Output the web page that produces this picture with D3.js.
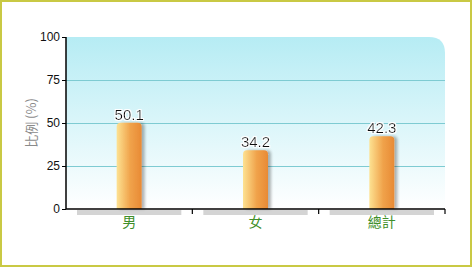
<!DOCTYPE html>
<html>
<head>
<meta charset="UTF-8">
<script src="https://cdn.jsdelivr.net/npm/d3@7"></script>
<style>
  body { margin: 0; background: #fff; }
  svg { display: block; font-family: Arial, "Liberation Sans", sans-serif; }
</style>
</head>
<body>
<div id="chart"></div>
<script>
// data
var categories = ["男", "女", "總計"];
var values = [50.1, 34.2, 42.3];
var yTicks = [0, 25, 50, 75, 100];
var yTitle = "比例 (%)";

var W = 472, H = 267;
var m = { left: 66, right: 27, top: 37, bottom: 58 };
var iw = W - m.left - m.right, ih = H - m.top - m.bottom;

var svg = d3.select("#chart").append("svg").attr("width", W).attr("height", H);

// outer border
svg.append("rect").attr("x", 1).attr("y", 1).attr("width", W - 2).attr("height", H - 2)
  .attr("fill", "#fff").attr("stroke", "#c9c944").attr("stroke-width", 2);

var defs = svg.append("defs");
var bg = defs.append("linearGradient").attr("id", "bg").attr("x1", 0).attr("y1", 0).attr("x2", 0).attr("y2", 1);
bg.append("stop").attr("offset", "0%").attr("stop-color", "#b6ecf4");
bg.append("stop").attr("offset", "100%").attr("stop-color", "#ffffff");

var bar = defs.append("linearGradient").attr("id", "bar").attr("x1", 0).attr("y1", 0).attr("x2", 1).attr("y2", 0);
bar.append("stop").attr("offset", "0%").attr("stop-color", "#fde292");
bar.append("stop").attr("offset", "55%").attr("stop-color", "#f0a24a");
bar.append("stop").attr("offset", "100%").attr("stop-color", "#e88a35");

var shadow = defs.append("filter").attr("id", "sh").attr("x", "-50%").attr("width", "200%");
shadow.append("feGaussianBlur").attr("in", "SourceAlpha").attr("stdDeviation", 1.5);
shadow.append("feOffset").attr("dx", 3).attr("dy", 0).attr("result", "b");
shadow.append("feComponentTransfer").append("feFuncA").attr("type", "linear").attr("slope", 0.3);
var mg = shadow.append("feMerge");
mg.append("feMergeNode");
mg.append("feMergeNode").attr("in", "SourceGraphic");

var halo = defs.append("filter").attr("id", "halo");
halo.append("feMorphology").attr("in", "SourceAlpha").attr("operator", "dilate").attr("radius", 1.2).attr("result", "d");
halo.append("feFlood").attr("flood-color", "#fff");
halo.append("feComposite").attr("in2", "d").attr("operator", "in");
var hm = halo.append("feMerge");
hm.append("feMergeNode");
hm.append("feMergeNode").attr("in", "SourceGraphic");

var g = svg.append("g").attr("transform", "translate(" + m.left + "," + m.top + ")");

var x = d3.scaleBand().domain(categories).range([0, iw]);
var y = d3.scaleLinear().domain([0, 100]).range([ih, 0]);

// plot background with rounded top-right corner
var r = 16;
g.append("path")
  .attr("d", "M0,0 H" + (iw - r) + " Q" + iw + ",0 " + iw + "," + r + " V" + ih + " H0 Z")
  .attr("fill", "url(#bg)");

// gridlines
g.selectAll(".grid").data(yTicks.filter(function (d) { return d > 0 && d < 100; }))
  .enter().append("line")
  .attr("x1", 0).attr("x2", iw)
  .attr("y1", function (d) { return y(d) + 0.5; }).attr("y2", function (d) { return y(d) + 0.5; })
  .attr("stroke", "#7ecbd2").attr("stroke-width", 1);

// gray floor under each category
g.selectAll(".floor").data(categories).enter().append("rect")
  .attr("x", function (d) { return x(d) + 11; })
  .attr("y", ih + 1)
  .attr("width", x.bandwidth() - 22)
  .attr("height", 5)
  .attr("fill", "#d4d4d4");

// bars
var bw = 25;
g.selectAll(".bar").data(values).enter().append("path")
  .attr("filter", "url(#sh)")
  .attr("fill", "url(#bar)")
  .attr("d", function (d, i) {
    var x0 = x(categories[i]) + x.bandwidth() / 2 - bw / 2, y0 = y(d), rr = 4;
    return "M" + x0 + "," + ih + " V" + (y0 + rr) + " Q" + x0 + "," + y0 + " " + (x0 + rr) + "," + y0 +
      " H" + (x0 + bw - rr) + " Q" + (x0 + bw) + "," + y0 + " " + (x0 + bw) + "," + (y0 + rr) + " V" + ih + " Z";
  });

// value labels
g.selectAll(".val").data(values).enter().append("text")
  .attr("x", function (d, i) { return x(categories[i]) + x.bandwidth() / 2; })
  .attr("y", function (d) { return y(d) - 3; })
  .attr("text-anchor", "middle")
  .attr("font-size", 15)
  .attr("fill", "#111")
  .attr("filter", "url(#halo)")
  .text(function (d) { return d.toFixed(1); });

// y axis
var yAxis = g.append("g").call(d3.axisLeft(y).tickValues(yTicks).tickSize(4).tickPadding(2));
yAxis.select(".domain").attr("stroke", "#000").attr("stroke-width", 1.5).attr("d", "M0," + ih + "V0");
yAxis.selectAll("line").attr("stroke", "#000");
yAxis.selectAll("text").attr("font-size", 12).attr("fill", "#111").attr("font-family", "Arial, 'Liberation Sans', sans-serif");

// x axis
var xAxis = g.append("g").attr("transform", "translate(0," + ih + ")")
  .call(d3.axisBottom(x).tickSize(0).tickPadding(8));
xAxis.select(".domain").attr("stroke", "#000").attr("stroke-width", 1.5).attr("d", "M0,0H" + iw);
xAxis.selectAll("text").attr("font-size", 14).attr("fill", "#3f8f2a")
  .attr("font-family", "'Noto Sans CJK TC', sans-serif");
// category boundary ticks
g.selectAll(".btick").data(categories).enter().append("line")
  .attr("x1", function (d) { return x(d) + x.bandwidth(); })
  .attr("x2", function (d) { return x(d) + x.bandwidth(); })
  .attr("y1", ih).attr("y2", ih + 5)
  .attr("stroke", "#000").attr("stroke-width", 1.2);

// y title
svg.append("text")
  .attr("transform", "translate(36," + (m.top + ih / 2) + ") rotate(-90)")
  .attr("text-anchor", "middle")
  .attr("font-size", 13)
  .attr("fill", "#8a8a8a")
  .attr("font-family", "'Noto Sans CJK TC', sans-serif")
  .text(yTitle);
</script>
</body>
</html>
